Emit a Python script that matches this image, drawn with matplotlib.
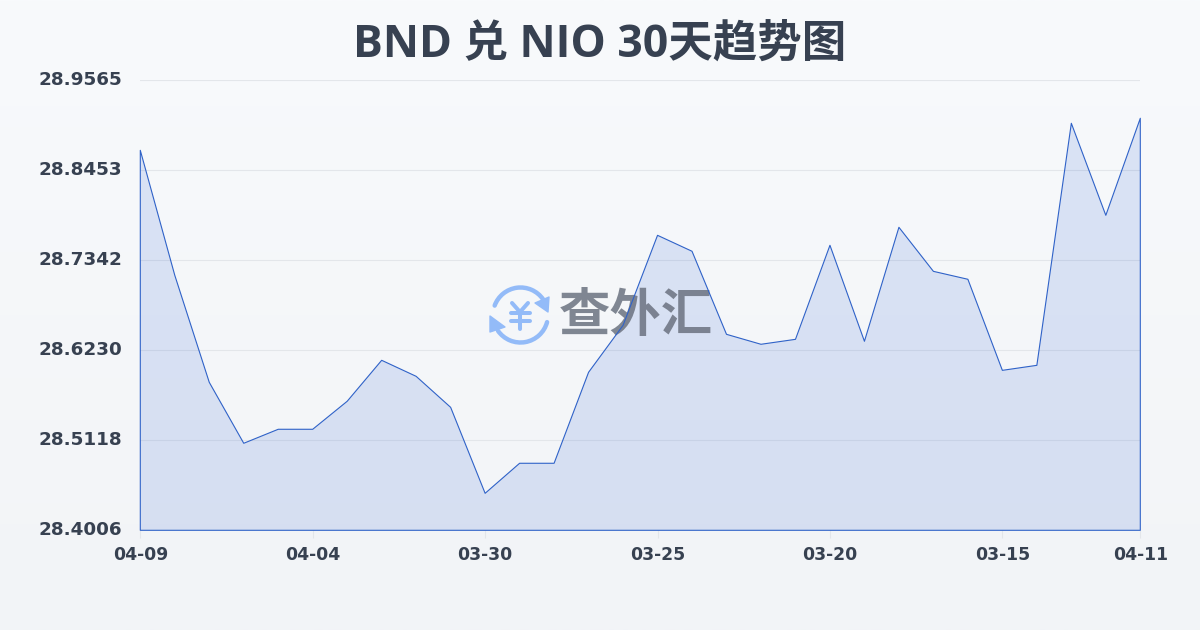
import numpy as np
import matplotlib
matplotlib.use("Agg")
import matplotlib.pyplot as plt
from matplotlib.colors import LinearSegmentedColormap, to_rgba
from matplotlib.patches import Arc, Polygon
from matplotlib.transforms import ScaledTranslation

plt.rcParams['font.family'] = ['Noto Sans CJK SC', 'DejaVu Sans']

title = "BND 兑 NIO 30天趋势图"
values = [28.8700, 28.7156, 28.5834, 28.5081, 28.5254, 28.5254, 28.5600, 28.6106,
          28.5908, 28.5525, 28.4463, 28.4834, 28.4834, 28.5958, 28.6538, 28.7650,
          28.7453, 28.6427, 28.6304, 28.6365, 28.7527, 28.6341, 28.7749, 28.7205,
          28.7107, 28.5982, 28.6044, 28.9034, 28.7897, 28.9096]
x_pos = [0, 5, 10, 15, 20, 25, 29]
x_labels = ["04-09", "04-04", "03-30", "03-25", "03-20", "03-15", "04-11"]
y_ticks = [28.4006, 28.5118, 28.6230, 28.7342, 28.8453, 28.9565]

dark = "#374151"
line_col = "#2f62c8"
icon = "#93bbf8"

fig = plt.figure(figsize=(12, 6.3), dpi=100)

# background gradient
bg = fig.add_axes([0, 0, 1, 1], zorder=0)
cm = LinearSegmentedColormap.from_list("bg", ["#f8fafc", "#f2f4f7"])
bg.imshow(np.linspace(0, 1, 256).reshape(-1, 1), aspect="auto", cmap=cm, extent=[0, 1200, 630, 0])
bg.set_xlim(0, 1200)
bg.set_ylim(630, 0)
bg.axis("off")

bg.text(600, 45.5, title, color=dark, fontsize=32, fontweight="bold", ha="center", va="center",
        family=['Open Sans', 'Noto Sans CJK SC'])

ax = fig.add_axes([140.3 / 1200, 99.7 / 630, 1000 / 1200, 450 / 630], zorder=2)
ax.patch.set_alpha(0)
x = np.arange(len(values))
ax.fill_between(x, values, y_ticks[0], facecolor=to_rgba("#2a5fd0", 0.14), edgecolor="none", zorder=2)
ax.fill_between(x, values, y_ticks[0], facecolor="none", edgecolor=line_col, lw=0.8, clip_on=False, zorder=5)
ax.set_xlim(0, 29)
ax.set_ylim(y_ticks[0], y_ticks[-1])
ax.set_yticks(y_ticks)
ax.set_yticklabels(["%.4f" % v for v in y_ticks])
ax.set_xticks(x_pos)
ax.set_xticklabels(x_labels)
ax.grid(axis="y", color="#e3e6ea", lw=0.8)
ax.set_axisbelow(True)
for s in ax.spines.values():
    s.set_visible(False)
ax.tick_params(axis="y", length=0, pad=13)
ax.tick_params(axis="x", length=6, width=0.8, color="#e3e6ea", pad=5)
for t in ax.get_xticklabels() + ax.get_yticklabels():
    t.set_family("DejaVu Sans")
    t.set_fontweight("bold")
    t.set_color(dark)
shift = ScaledTranslation(0, 2.5 / 100, fig.dpi_scale_trans)
for t in ax.get_yticklabels():
    t.set_fontsize(13.2)
    t.set_transform(t.get_transform() + shift)
for t in ax.get_xticklabels():
    t.set_fontsize(12.4)

# watermark between the fill and the line, in pixel coords
px = bg.transData
wm = dict(transform=px, zorder=3, clip_on=False)
ax.add_patch(Arc((520.5, 315), 55, 55, theta1=200, theta2=325, color=icon, lw=3.2, capstyle="round", **wm))
ax.add_patch(Arc((520.5, 315), 55, 55, theta1=15, theta2=145, color=icon, lw=3.2, capstyle="round", **wm))
ax.add_patch(Polygon([[549, 297], [548, 312], [535, 303]], color=icon, joinstyle="round", **wm))
ax.add_patch(Polygon([[490, 316], [490, 332], [505, 327]], color=icon, joinstyle="round", **wm))
for seg in [([512, 520, 528], [303, 312, 303]), ([520, 520], [312, 329]),
            ([510.5, 529.5], [313, 313]), ([510.5, 529.5], [321, 321])]:
    ax.plot(seg[0], seg[1], color=icon, lw=2.9, solid_capstyle="round", solid_joinstyle="round", **wm)
ax.text(636, 315, "查外汇", color="#6b7280", alpha=0.85, fontsize=37, fontweight="bold",
        ha="center", va="center", **wm)

fig.savefig("out.png", dpi=100)
